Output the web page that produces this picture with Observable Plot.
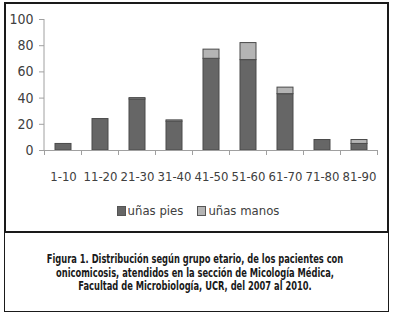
<!DOCTYPE html>
<html>
<head>
<meta charset="utf-8">
<script src="https://cdn.jsdelivr.net/npm/d3@7"></script>
<script src="https://cdn.jsdelivr.net/npm/@observablehq/plot@0.6"></script>
<style>
  html, body { margin: 0; padding: 0; background: #fff; }
  body { width: 396px; height: 313px; position: relative; overflow: hidden; }
  .box { position: absolute; left: 4px; top: 2px; width: 385px; height: 231px; border: 2px solid #1a1a1a; box-sizing: border-box; }
  .capbox { position: absolute; left: 4px; top: 233px; width: 385px; height: 79px; border: 1.5px solid #1a1a1a; border-top: none; box-sizing: border-box; }
  #chart { position: absolute; left: 0; top: 0; }
  .legend { position: absolute; left: 0; width: 396px; top: 203px; text-align: center; font-family: "DejaVu Sans Condensed", "DejaVu Sans", sans-serif; font-size: 13px; color: #404040; white-space: nowrap; }
  .legend span.item { display: inline-block; margin: 0 7px; }
  .legend i { display: inline-block; width: 7px; height: 8px; border: 1px solid #555; margin-right: 2px; vertical-align: -1px; }
  .caption { position: absolute; left: 2px; width: 385px; top: 252px; height: 45px; font-family: "DejaVu Sans Condensed", "DejaVu Sans", sans-serif; font-weight: bold; font-size: 12.5px; line-height: 13.5px; color: #1a1a1a; }
  .caption .inner { position: absolute; left: 50%; top: 0; transform: translateX(-50%) scaleX(0.74); white-space: nowrap; text-align: center; }
</style>
</head>
<body>
<div class="box"></div>
<div class="capbox"></div>
<div id="chart"></div>
<div class="legend" id="legend"></div>
<div class="caption"><div class="inner">Figura 1. Distribución según grupo etario, de los pacientes con<br>onicomicosis, atendidos en la sección de Micología Médica,<br>Facultad de Microbiología, UCR, del 2007 al 2010.</div></div>
<script>
const categories = ["1-10","11-20","21-30","31-40","41-50","51-60","61-70","71-80","81-90"];
const series = ["uñas pies","uñas manos"];
const piesValues = [5, 24, 39, 22, 70, 69, 43, 8, 5];
const manosValues = [0, 0, 1, 1, 7, 13, 5, 0, 3];
const yTicks = [0, 20, 40, 60, 80, 100];
const colors = ["#666666", "#b4b4b4"];

const data = [];
categories.forEach((c, i) => {
  data.push({grupo: c, serie: series[0], valor: piesValues[i]});
  data.push({grupo: c, serie: series[1], valor: manosValues[i]});
});

const axisColor = "#a0a0a0";
const font = '"DejaVu Sans Condensed", "DejaVu Sans", sans-serif';

// Boundary ticks between categories (Excel style)
function boundaryTicks(index, scales, values, dimensions) {
  const x = scales.x;
  const step = x.step();
  const gap = (step - x.bandwidth()) / 2;
  const y0 = dimensions.height - dimensions.marginBottom;
  const g = d3.create("svg:g");
  const edges = categories.map(c => x(c) - gap);
  edges.push(x(categories[categories.length - 1]) + x.bandwidth() + gap);
  g.selectAll("line").data(edges).join("line")
    .attr("x1", d => d).attr("x2", d => d)
    .attr("y1", y0).attr("y2", y0 + 5)
    .attr("stroke", axisColor);
  return g.node();
}
// Y axis line
function yAxisLine(index, scales, values, dimensions) {
  return d3.create("svg:line")
    .attr("x1", dimensions.marginLeft).attr("x2", dimensions.marginLeft)
    .attr("y1", scales.y(100)).attr("y2", scales.y(0))
    .attr("stroke", axisColor).node();
}

const plot = Plot.plot({
  width: 396,
  height: 200,
  marginLeft: 44,
  marginRight: 19,
  marginTop: 19,
  marginBottom: 50,
  style: {fontFamily: font, fontSize: "13px", color: "#404040", background: "transparent"},
  x: {domain: categories, paddingInner: 0.57, paddingOuter: 0.285, label: null},
  y: {domain: [0, 100], label: null},
  color: {domain: series, range: colors},
  marks: [
    Plot.barY(data, Plot.stackY({x: "grupo", y: "valor", fill: "serie", stroke: "#4a4a4a", strokeWidth: 1, order: series})),
    Plot.axisY({ticks: yTicks, tickSize: 5, tickPadding: 6, stroke: axisColor, fontSize: 14, fill: "#404040", label: null}),
    Plot.axisX({tickSize: 0, tickPadding: 21, fontSize: 13, fill: "#404040", label: null}),
    Plot.ruleY([0], {stroke: axisColor}),
    yAxisLine,
    boundaryTicks
  ]
});
document.getElementById("chart").appendChild(plot);

const legend = document.getElementById("legend");
series.forEach((s, i) => {
  const item = document.createElement("span");
  item.className = "item";
  const sw = document.createElement("i");
  sw.style.background = colors[i];
  item.appendChild(sw);
  item.appendChild(document.createTextNode(s));
  legend.appendChild(item);
});
</script>
</body>
</html>
